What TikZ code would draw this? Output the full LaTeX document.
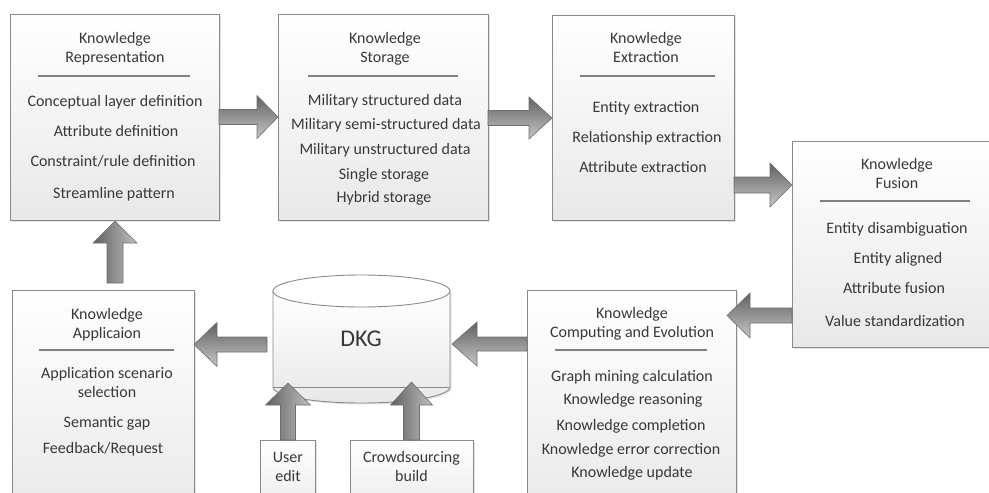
\documentclass[tikz,border=0pt]{standalone}
\usepackage{fontspec}
\setmainfont{Carlito}
\usetikzlibrary{calc,shadows}
\definecolor{txtc}{HTML}{383838}
\definecolor{edge}{HTML}{8A8A8A}
\definecolor{aedge}{HTML}{6E6E6E}
\newcommand\barrow[6]{%
  \coordinate (bah) at ($(#3)!#6!(#2)$);
  \path[#1] ($(#2)!#4!90:(#3)$) -- ($(bah)!#4!90:(#3)$) -- ($(bah)!#5!90:(#3)$) -- (#3)
    -- ($(bah)!#5!-90:(#3)$) -- ($(bah)!#4!-90:(#3)$) -- ($(#2)!#4!-90:(#3)$) -- cycle;}
\begin{document}
\begin{tikzpicture}[x=1pt,y=-1pt,
  box/.style={draw=edge, line width=0.9pt, top color=white, bottom color=black!9,
    drop shadow={shadow xshift=1.5pt, shadow yshift=-1.5pt, opacity=0.22},
    inner sep=0pt, outer sep=0pt, anchor=north west},
  txt/.style={font=\fontsize{16}{19}\selectfont, text=txtc, anchor=base, inner sep=0pt},
  rulel/.style={draw=black!50, line width=1.1pt},
  harr/.style={draw=aedge, line width=0.6pt, top color=black!62, bottom color=black!22},
  varr/.style={draw=aedge, line width=0.6pt, left color=black!62, right color=black!25},
]
\useasboundingbox (0,0) rectangle (989,493);
\clip (0,0) rectangle (989,493);

% boxes
\node[box, minimum width=209pt, minimum height=206pt] (rep) at (10,14) {};
\node[box, minimum width=210pt, minimum height=206pt] (sto) at (278,14) {};
\node[box, minimum width=182pt, minimum height=205pt] (ext) at (552,15) {};
\node[box, minimum width=215pt, minimum height=206pt] (fus) at (792,141) {};
\node[box, minimum width=209pt, minimum height=230pt] (comp) at (527,290) {};
\node[box, minimum width=182pt, minimum height=230pt] (app) at (12,290) {};
\node[box, minimum width=55pt, minimum height=80pt] (user) at (260,440) {};
\node[box, minimum width=123pt, minimum height=80pt] (crowd) at (350,440) {};

% DKG cylinder
\path[draw=edge, line width=0.9pt, top color=white, bottom color=black!9,
  drop shadow={shadow xshift=1.5pt, shadow yshift=-1.5pt, opacity=0.22}]
  (273,291) -- (273,387) arc[start angle=180, end angle=360, x radius=88.5pt, y radius=16pt]
  -- (450,291) -- cycle;
\draw[edge, line width=0.9pt] (273,387) -- (450,387);
\draw[edge, line width=0.9pt, fill=white] (361.5,291) ellipse[x radius=88.5pt, y radius=16pt];
\node[txt, font=\fontsize{24}{28}\selectfont] (dkg) at (361,346) {DKG};
\coordinate (dkgL) at (267,344.5);
\coordinate (dkgR) at (452,344);
\coordinate (dkgB1) at (288,383);
\coordinate (dkgB2) at (411.5,382);

% rules
\draw[rulel] (38,76) -- (190,76);
\draw[rulel] (308,76) -- (458,76);
\draw[rulel] (580,76) -- (715,76);
\draw[rulel] (820,201) -- (970,201);
\draw[rulel] (555,350) -- (707,350);
\draw[rulel] (39,350) -- (174,350);

% texts: representation
\node[txt] (rep-t1) at (115,43.5) {Knowledge};
\node[txt] (rep-t2) at (115,62.5) {Representation};
\node[txt] (rep-i1) at (115,106.5) {Conceptual layer definition};
\node[txt] (rep-i2) at (116,136.5) {Attribute definition};
\node[txt] (rep-i3) at (113,166.5) {Constraint/rule definition};
\node[txt] (rep-i4) at (114,198.5) {Streamline pattern};
% storage
\node[txt] (sto-t1) at (385,43.5) {Knowledge};
\node[txt] (sto-t2) at (385,62.5) {Storage};
\node[txt] (sto-i1) at (385,105.5) {Military structured data};
\node[txt] (sto-i2) at (386,129.5) {Military semi-structured data};
\node[txt] (sto-i3) at (385,154.5) {Military unstructured data};
\node[txt] (sto-i4) at (384,179.5) {Single storage};
\node[txt] (sto-i5) at (384,202.5) {Hybrid storage};
% extraction
\node[txt] (ext-t1) at (646,43.5) {Knowledge};
\node[txt] (ext-t2) at (646,62.5) {Extraction};
\node[txt] (ext-i1) at (646,112.5) {Entity extraction};
\node[txt] (ext-i2) at (647,142.5) {Relationship extraction};
\node[txt] (ext-i3) at (643,172.5) {Attribute extraction};
% fusion
\node[txt] (fus-t1) at (897,169.5) {Knowledge};
\node[txt] (fus-t2) at (897,188.5) {Fusion};
\node[txt] (fus-i1) at (897,233.5) {Entity disambiguation};
\node[txt] (fus-i2) at (898,263.5) {Entity aligned};
\node[txt] (fus-i3) at (894,293.5) {Attribute fusion};
\node[txt] (fus-i4) at (895,326.5) {Value standardization};
% computing
\node[txt] (comp-t1) at (632,318.5) {Knowledge};
\node[txt] (comp-t2) at (632,337.5) {Computing and Evolution};
\node[txt] (comp-i1) at (632,381.5) {Graph mining calculation};
\node[txt] (comp-i2) at (633,404.5) {Knowledge reasoning};
\node[txt] (comp-i3) at (631,430.5) {Knowledge completion};
\node[txt] (comp-i4) at (631,454.5) {Knowledge error correction};
\node[txt] (comp-i5) at (632,477.5) {Knowledge update};
% application
\node[txt] (app-t1) at (107,319.5) {Knowledge};
\node[txt] (app-t2) at (107,338.5) {Applicaion};
\node[txt] (app-i1) at (107,378.5) {Application scenario};
\node[txt] (app-i2) at (107,397.5) {selection};
\node[txt] (app-i3) at (107,427.5) {Semantic gap};
\node[txt] (app-i4) at (103,453.5) {Feedback/Request};
% small boxes
\node[txt] (user-1) at (288,462.5) {User};
\node[txt] (user-2) at (288,481.5) {edit};
\node[txt] (crowd-1) at (411.5,462.5) {Crowdsourcing};
\node[txt] (crowd-2) at (411.5,481.5) {build};

% arrow end points
\coordinate (a1s) at (rep.east |- 0,117);
\coordinate (a1e) at (sto.west |- 0,117);
\coordinate (a2s) at (sto.east |- 0,118);
\coordinate (a2e) at (ext.west |- 0,118);
\coordinate (a3s) at (ext.east |- 0,185);
\coordinate (a3e) at (fus.west |- 0,185);
\coordinate (a4s) at (fus.west |- 0,315.5);
\coordinate (a4e) at (727,315.5);
\coordinate (a5s) at (comp.west |- 0,344);
\coordinate (a6e) at (app.east |- 0,344.5);
\coordinate (a7s) at (115,283);
\coordinate (a7e) at (115,221);
\coordinate (a8s) at (user.north -| dkgB1);
\coordinate (a9s) at (crowd.north -| dkgB2);

\barrow{harr}{a1s}{a1e}{7.5pt}{21.5pt}{21pt}
\barrow{harr}{a2s}{a2e}{7.5pt}{21pt}{23pt}
\barrow{harr}{a3s}{a3e}{8pt}{22pt}{22pt}
\barrow{harr}{a4s}{a4e}{7.5pt}{22.5pt}{23pt}
\barrow{harr}{a5s}{dkgR}{7pt}{22pt}{25pt}
\barrow{harr}{dkgL}{a6e}{7.5pt}{22pt}{23pt}
\barrow{varr}{a7s}{a7e}{8pt}{22pt}{22pt}
\barrow{varr}{a8s}{dkgB1}{7.5pt}{22.5pt}{22pt}
\barrow{varr}{a9s}{dkgB2}{8pt}{21pt}{23pt}
\end{tikzpicture}
\end{document}
